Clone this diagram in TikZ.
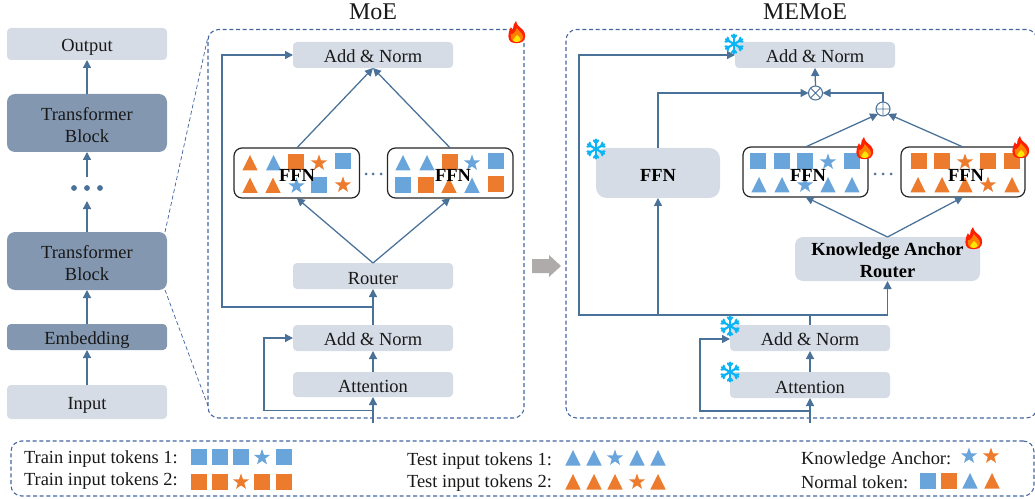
\documentclass[tikz,border=0pt]{standalone}
\usepackage{fontspec}
\setmainfont{Liberation Serif}
\usetikzlibrary{arrows.meta,calc}
\definecolor{lightbox}{HTML}{D6DCE5}
\definecolor{darkbox}{HTML}{8497B0}
\definecolor{linecol}{HTML}{4A7197}
\definecolor{dashcol}{HTML}{44659F}
\definecolor{tokblue}{HTML}{69A5DA}
\definecolor{tokorange}{HTML}{ED7B2E}
\definecolor{frost}{HTML}{0BB4F5}
\definecolor{grayarrow}{HTML}{AFABAB}
\newcommand\bxr{14.5}
\newcommand\bx[7]{%
  \pgfmathsetmacro\bw{(#4-#2)*0.75}\pgfmathsetmacro\bh{(#5-#3)*0.75}%
  \node[#6,minimum width=\bw pt,minimum height=\bh pt] (#1) at ({(#2+#4)/2},{(#3+#5)/2}) {\rule{0pt}{\bxr pt}#7};}
\newcommand\tsq[3]{\fill[#3] (#1,#2) rectangle ++(16,16);}
\newcommand\ttri[3]{\fill[#3] (#1,#2) -- ++(7.7,15.5) -- ++(-15.4,0) -- cycle;}
\newcommand\tstar[3]{\fill[#3,shift={(#1,#2)}] (-90:8.5) -- (-54:3.4) -- (-18:8.5) -- (18:3.4) -- (54:8.5) -- (90:3.4) -- (126:8.5) -- (162:3.4) -- (198:8.5) -- (234:3.4) -- cycle;}
\newcommand\flame[2]{\begin{scope}[shift={(#1,#2)}]
  \fill[red!75!orange] (-1,-11) .. controls (0,-6) and (3,-5) .. (6,-2) .. controls (9,1) and (9,8) .. (5,10) .. controls (2,11.5) and (-3,11.5) .. (-6,10) .. controls (-9,8) and (-10,2) .. (-6,-5) .. controls (-5.5,-3) and (-5,-3) .. (-4,-3) .. controls (-4,-6) and (-3,-9) .. (-1,-11) -- cycle;
  \fill[orange] (0,-4) .. controls (1,-1) and (6,1) .. (6,5) .. controls (6,9) and (2,10) .. (0,10) .. controls (-5,10) and (-7,7) .. (-6,2) .. controls (-4,3) and (-2,0) .. (0,-4) -- cycle;
  \fill[yellow!90!orange] (0,3) .. controls (2,5) and (4,6) .. (3.5,8) .. controls (2,10.5) and (-2,10.5) .. (-4,8.5) .. controls (-4.5,6) and (-1,6) .. (0,3) -- cycle;
\end{scope}}
\newcommand\snow[2]{\begin{scope}[shift={(#1,#2)},frost,line width=1.6pt,line cap=round]
  \foreach \a in {30,90,150,210,270,330}{
    \draw (0,0) -- (\a:9.5);
    \draw ($(\a:6)+(\a+40:3.5)$) -- (\a:6) -- ($(\a:6)+(\a-40:3.5)$);
  }
\end{scope}}
\tikzset{
  every node/.style={font=\fontsize{13.85}{16.5}\selectfont,text=black!90,inner sep=0pt,outer sep=0pt,align=center},
  lbox/.style={fill=lightbox,rounded corners=3pt},
  lbig/.style={fill=lightbox,rounded corners=8pt,font=\fontsize{13.85}{16.5}\selectfont\bfseries,text=black},
  lkr/.style={fill=lightbox,rounded corners=6pt,font=\fontsize{13.85}{16.5}\selectfont\bfseries,text=black},
  dbox/.style={fill=darkbox,rounded corners=3pt},
  dbig/.style={fill=darkbox,rounded corners=6pt},
  panel/.style={draw=dashcol,densely dashed,line width=0.8pt,rounded corners=8pt},
  tokbox/.style={draw=black!85,fill=white,line width=0.9pt,rounded corners=6pt},
  conn/.style={draw=linecol,line width=0.95pt,-{Triangle[length=6pt,width=6pt]}},
  plainline/.style={draw=linecol,line width=0.95pt},
  zoomline/.style={draw=dashcol,densely dashed,line width=0.55pt},
  opcirc/.style={circle,draw=linecol,line width=0.8pt,fill=white,minimum size=10.5pt},
  ffnlabel/.style={font=\fontsize{13.85}{16.5}\selectfont\bfseries,text=black},
  title/.style={font=\fontsize{18}{20}\selectfont},
  legend/.style={anchor=west},
  dotmark/.style={fill=linecol}
}
\begin{document}
\begin{tikzpicture}[x=0.75pt,y=-0.75pt]
\useasboundingbox (0,0) rectangle (1035,499);
\clip (0,0) rectangle (1035,499);
% panels
\bx{moe}{208}{29.5}{524}{418}{panel}{}
\bx{memoe}{566}{29.5}{1037}{418}{panel}{}
\bx{leg}{11}{441}{1034}{496}{panel}{}
\node[title] (moet) at (373,12) {MoE};
\node[title] (memoet) at (805,12) {MEMoE};
% left column
\bx{out}{7}{28}{167}{60}{lbox}{Output}
\renewcommand\bxr{13}
\bx{tb1}{7}{94}{167}{152}{dbig}{Transformer\\Block}
\bx{tb2}{7}{232}{167}{290}{dbig}{Transformer\\Block}
\renewcommand\bxr{14.5}
\bx{emb}{7}{324}{167}{350}{dbox}{Embedding}
\bx{inp}{7}{385}{167}{419}{lbox}{Input}
\coordinate (d1) at (87,201);
\coordinate (d2) at (87,177);
\fill[dotmark] (74,188) circle (2.9) (87,188) circle (2.9) (100,188) circle (2.9);
\draw[conn] (inp.north) -- (emb.south);
\draw[conn] (emb.north) -- (tb2.south);
\draw[conn] (tb2.north) -- (d1);
\draw[conn] (d2) -- (tb1.south);
\draw[conn] (tb1.north) -- (out.south);
\draw[zoomline] ($(tb2.north east)+(-2,0)$) -- ($(moe.north west)+(0,7)$);
\draw[zoomline] ($(tb2.south east)+(-2,0)$) -- ($(moe.south west)+(0,-12)$);
% MoE panel
\renewcommand\bxr{11.5}
\bx{a1}{293}{42}{453}{68}{lbox}{Add \& Norm}
\bx{m1}{234}{148}{359.5}{198}{tokbox}{}
\bx{m2}{387.5}{148}{513}{198}{tokbox}{}
\renewcommand\bxr{13}
\bx{rt}{293}{263}{453}{289}{lbox}{Router}
\renewcommand\bxr{11.5}
\bx{a2}{293}{325}{453}{351}{lbox}{Add \& Norm}
\renewcommand\bxr{12.25}
\bx{at}{293}{372}{453}{397}{lbox}{Attention}
\coordinate (moeIn) at (373,423);
\coordinate (moeFb) at (373,410.5);
\coordinate (moeTap) at (373,307);
\coordinate (moeC1) at (222,307);
\coordinate (moeC2) at (264,410.5);
\draw[conn] (moeIn) -- (at.south);
\draw[conn] (at.north) -- (a2.south);
\draw[conn] (a2.north) -- (rt.south);
\draw[conn] (moeFb) -- (moeC2) |- (a2.west);
\draw[conn] (moeTap) -- (moeC1) |- (a1.west);
\draw[conn] (rt.north) -- (m1.south);
\draw[conn] (rt.north) -- (m2.south);
\draw[conn] (m1.north) -- (a1.south);
\draw[conn] (m2.north) -- (a1.south);
% tokens box 1
\ttri{250}{155}{tokorange}\ttri{273.6}{155}{tokblue}\tsq{288}{154}{tokorange}\tstar{319}{163}{tokorange}\tsq{335}{153}{tokblue}
\ttri{250}{177.5}{tokorange}\ttri{273}{177.5}{tokorange}\tstar{296.5}{186}{tokblue}\tsq{311}{177}{tokblue}\tstar{343}{185}{tokorange}
% tokens box 2
\ttri{403}{155}{tokblue}\ttri{427}{155}{tokblue}\tsq{442}{154}{tokorange}\tstar{472}{163}{tokblue}\tsq{488}{153}{tokblue}
\tsq{395}{177}{tokblue}\tsq{418}{177}{tokorange}\ttri{449}{177.5}{tokorange}\ttri{472}{177.5}{tokblue}\tsq{488}{176}{tokorange}
\node[ffnlabel] (ff1) at (297,175) {FFN};
\node[ffnlabel] (ff2) at (453,175) {FFN};
\fill[dotmark] (366,174) circle (1.5) (373,174) circle (1.5) (381,174) circle (1.5);
\flame{517}{32}
% gray arrow
\fill[grayarrow] (532,259) -- (549,259) -- (549,255) -- (561,266) -- (549,277) -- (549,273) -- (532,273) -- cycle;
% MEMoE panel
\renewcommand\bxr{11.5}
\bx{b1}{735}{42}{895}{68}{lbox}{Add \& Norm}
\renewcommand\bxr{13}
\bx{fz}{596}{148}{720}{198}{lbig}{FFN}
\renewcommand\bxr{11.5}
\bx{n1}{743}{147}{868}{197}{tokbox}{}
\bx{n2}{901}{147}{1025}{197}{tokbox}{}
\bx{kr}{795}{237}{980}{281}{lkr}{Knowledge Anchor\\Router}
\bx{b2}{730}{325}{890}{351}{lbox}{Add \& Norm}
\renewcommand\bxr{13}
\bx{bt}{730}{372}{890}{398}{lbox}{Attention}
\node[opcirc] (mul) at (815.5,93) {};
\node[opcirc] (add) at (883,109) {};
\draw[linecol,line width=0.7pt] (mul.45) -- (mul.225) (mul.135) -- (mul.315) (add.north) -- (add.south) (add.west) -- (add.east);
\coordinate (memIn) at (810,423);
\coordinate (memFb) at (810,411);
\coordinate (memFbC) at (700,411);
\coordinate (memTop) at (810,315);
\coordinate (memL) at (579,315);
\coordinate (memF) at (658,315);
\coordinate (memR) at (887.5,315);
\draw[conn] (memIn) -- (bt.south);
\draw[conn] (bt.north) -- (b2.south);
\draw[conn] (memFb) -- (memFbC) |- ($(b2.west)+(0,1)$);
\draw[plainline] (b2.north) -- (memTop);
\draw[conn] (memR) -- (memL) |- (b1.west);
\draw[conn] (memL) -- (memR) -- (kr.south);
\draw[conn] (memF) -- (fz.south);
\draw[conn] (fz.north) |- (mul.west);
\draw[conn] (mul.north) -- (b1.south);
\draw[conn] (add.north) |- (mul.east);
\draw[conn] (n1.north) -- (add.south west);
\draw[conn] (n2.north) -- (add.south east);
\draw[conn] (kr.north) -- (n1.south);
\draw[conn] (kr.north) -- (n2.south);
% tokens box 3
\tsq{750}{153}{tokblue}\tsq{774}{153}{tokblue}\tsq{797}{153}{tokblue}\tstar{828}{162}{tokblue}\tsq{844}{153}{tokblue}
\ttri{759}{177}{tokblue}\ttri{782}{177}{tokblue}\tstar{805}{185}{tokblue}\ttri{828}{177}{tokblue}\ttri{852}{177}{tokblue}
% tokens box 4
\tsq{911}{153}{tokorange}\tsq{934}{153}{tokorange}\tstar{965}{162}{tokorange}\tsq{980}{153}{tokorange}\tsq{1004}{153}{tokorange}
\ttri{918}{177}{tokorange}\ttri{942}{177}{tokorange}\ttri{965}{177}{tokorange}\tstar{988}{185}{tokorange}\ttri{1012}{177}{tokorange}
\node[ffnlabel] (ff3) at (808,175) {FFN};
\node[ffnlabel] (ff4) at (966,175) {FFN};
\fill[dotmark] (875,174) circle (1.5) (883,174) circle (1.5) (891,174) circle (1.5);
\flame{865}{148}
\flame{1021}{147}
\flame{974}{238}
\snow{734}{44}
\snow{596}{149}
\snow{730}{326}
\snow{730}{372}
% legend
\node[legend] (l1) at (24,459) {Train input tokens 1:};
\node[legend] (l2) at (24,481) {Train input tokens 2:};
\node[legend] (l3) at (407,461) {Test input tokens 1:};
\node[legend] (l4) at (407,483) {Test input tokens 2:};
\node[legend] (l5) at (801,460) {Knowledge Anchor:};
\node[legend] (l6) at (801,482) {Normal token:};
\tsq{191}{449}{tokblue}\tsq{212}{449}{tokblue}\tsq{233}{449}{tokblue}\tstar{262}{457.5}{tokblue}\tsq{276}{449}{tokblue}
\tsq{191}{474}{tokorange}\tsq{212}{474}{tokorange}\tstar{241}{482}{tokorange}\tsq{254}{474}{tokorange}\tsq{276}{474}{tokorange}
\ttri{573}{450}{tokblue}\ttri{594}{450}{tokblue}\tstar{615}{458}{tokblue}\ttri{637}{450}{tokblue}\ttri{658}{450}{tokblue}
\ttri{573}{474}{tokorange}\ttri{594}{474}{tokorange}\ttri{615}{474}{tokorange}\tstar{637}{482}{tokorange}\ttri{658}{474}{tokorange}
\tstar{969}{456}{tokblue}\tstar{991}{456}{tokorange}
\tsq{920}{472.5}{tokblue}\tsq{941}{472.5}{tokorange}\ttri{970}{473}{tokblue}\ttri{992}{473}{tokorange}
\end{tikzpicture}
\end{document}
